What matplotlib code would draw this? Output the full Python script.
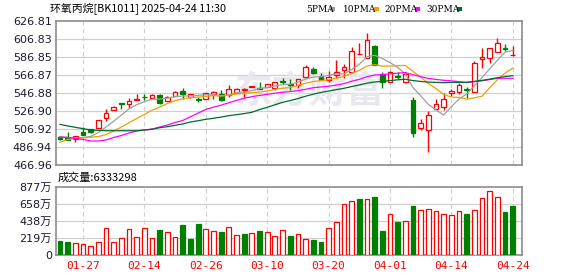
import numpy as np
import matplotlib
matplotlib.use("Agg")
import matplotlib.pyplot as plt
from matplotlib.patches import Rectangle

plt.rcParams['font.family'] = ['DejaVu Sans', 'Noto Sans CJK SC']

# trading days shown (MM-DD)
dates = ['01-22', '01-23', '01-24', '01-27', '02-05', '02-06', '02-07', '02-10', '02-11', '02-12',
         '02-13', '02-14', '02-17', '02-18', '02-19', '02-20', '02-21', '02-24', '02-25', '02-26',
         '02-27', '02-28', '03-03', '03-04', '03-05', '03-06', '03-07', '03-10', '03-11', '03-12',
         '03-13', '03-14', '03-17', '03-18', '03-19', '03-20', '03-21', '03-24', '03-25', '03-26',
         '03-27', '03-28', '03-31', '04-01', '04-02', '04-03', '04-07', '04-08', '04-09', '04-10',
         '04-11', '04-14', '04-15', '04-16', '04-17', '04-18', '04-21', '04-22', '04-23', '04-24']

opens = [497.7, 498.4, 495.8, 503.9, 506.9, 507.7, 519.5, 528.0, 535.8, 534.7,
         539.1, 542.5, 541.7, 544.7, 538.3, 543.9, 549.1, 542.1, 540.2, 540.2,
         545.8, 545.8, 544.7, 547.2, 549.7, 553.9, 552.5, 553.9, 552.1, 560.1,
         557.4, 555.4, 564.3, 573.5, 566.1, 561.0, 566.9, 572.4, 569.9, 589.8,
         585.4, 599.4, 568.0, 558.8, 566.3, 559.4, 539.1, 507.7, 505.8, 528.8,
         531.0, 546.5, 547.7, 551.5, 547.7, 585.0, 585.4, 592.1, 596.5, 588.7]
closes = [495.5, 494.7, 499.2, 500.3, 503.9, 516.9, 525.0, 531.7, 534.7, 538.0,
          540.2, 542.0, 544.7, 536.1, 542.8, 548.3, 545.8, 545.4, 539.1, 546.5,
          548.3, 539.1, 550.8, 551.5, 550.8, 555.0, 551.7, 556.5, 558.8, 559.6,
          556.3, 562.1, 575.4, 569.4, 561.3, 564.3, 569.9, 575.7, 593.5, 590.5,
          605.7, 577.9, 558.8, 569.9, 565.2, 567.6, 502.8, 513.3, 522.1, 534.4,
          539.9, 549.1, 555.4, 550.4, 579.9, 586.3, 596.5, 602.7, 595.4, 589.5]
highs = [499.1, 503.9, 499.2, 508.8, 506.9, 516.9, 528.8, 532.0, 535.8, 541.3,
         545.8, 545.8, 545.8, 545.8, 543.5, 548.8, 552.1, 545.8, 542.5, 546.9,
         548.8, 550.2, 555.7, 551.9, 552.1, 555.0, 559.4, 556.9, 559.1, 563.5,
         562.1, 562.5, 578.0, 575.4, 568.8, 571.6, 583.5, 579.1, 597.6, 602.0,
         613.1, 600.2, 569.9, 571.6, 570.5, 570.5, 542.1, 517.7, 527.2, 539.9,
         546.5, 550.8, 557.6, 553.6, 582.4, 596.5, 596.5, 607.6, 600.9, 599.1]
lows = [494.7, 494.7, 492.5, 500.3, 502.5, 507.7, 515.8, 527.5, 528.8, 530.6,
        539.1, 539.1, 541.7, 534.7, 537.5, 543.5, 539.9, 541.5, 536.9, 539.9,
        539.9, 538.0, 542.5, 546.5, 542.8, 553.6, 551.7, 553.6, 550.2, 556.9,
        550.2, 552.1, 564.3, 568.0, 561.3, 558.8, 563.5, 563.2, 568.8, 589.8,
        585.4, 577.9, 552.8, 558.8, 562.1, 558.3, 497.7, 505.8, 481.1, 528.8,
        528.0, 544.1, 545.8, 541.3, 547.7, 574.3, 579.9, 592.1, 593.9, 587.6]

# volume in 万
volumes = [180, 172, 151, 138, 112, 164, 344, 164, 223, 331,
           228, 344, 215, 322, 297, 228, 387, 206, 400, 331,
           310, 301, 357, 254, 271, 284, 310, 297, 245, 318,
           245, 271, 206, 193, 168, 344, 426, 658, 692, 722,
           718, 748, 310, 529, 430, 439, 632, 580, 593, 567,
           529, 516, 567, 529, 580, 735, 822, 748, 555, 633.3]

ma5 = [498.5, 497.5, 497.0, 497.5, 498.7, 503.0, 509.1, 515.6, 522.4, 529.3,
       533.9, 537.3, 539.9, 540.2, 541.2, 542.8, 543.5, 543.7, 544.3, 545.0,
       545.0, 543.7, 544.9, 547.2, 548.1, 549.4, 552.0, 553.0, 554.6, 556.3,
       556.6, 558.7, 562.4, 564.6, 564.9, 566.5, 568.1, 568.1, 572.9, 578.8,
       587.1, 588.7, 585.3, 580.6, 575.5, 567.9, 552.9, 543.8, 534.2, 528.0,
       522.5, 531.8, 540.2, 545.8, 554.9, 564.2, 573.7, 583.2, 592.2, 594.1]
ma10 = [492.2, 495.3, 496.6, 497.0, 497.7, 498.6, 500.8, 504.7, 509.1, 514.0,
        518.5, 523.2, 527.8, 531.3, 535.3, 538.4, 540.4, 541.8, 542.3, 543.1,
        543.9, 543.6, 544.3, 545.8, 546.6, 547.2, 547.9, 549.0, 550.9, 552.2,
        553.0, 555.4, 557.7, 559.6, 560.6, 561.6, 563.4, 565.3, 568.8, 571.9,
        576.8, 578.4, 576.7, 576.8, 577.2, 577.5, 570.8, 564.6, 557.4, 551.8,
        545.2, 542.4, 542.0, 540.0, 541.5, 543.4, 552.8, 561.7, 569.0, 574.5]
ma20 = [498.0, 497.5, 496.4, 495.3, 493.6, 493.6, 494.7, 497.5, 499.7, 502.5,
        504.7, 505.8, 506.9, 509.1, 511.4, 514.1, 516.4, 520.5, 524.6, 528.6,
        531.2, 533.4, 536.1, 538.6, 541.0, 542.8, 544.2, 545.4, 546.6, 547.7,
        548.5, 549.5, 551.0, 552.7, 553.6, 554.4, 555.7, 557.2, 559.9, 562.1,
        564.9, 566.9, 567.2, 568.2, 568.9, 569.6, 567.1, 565.0, 563.1, 561.9,
        561.0, 560.4, 559.4, 558.4, 559.4, 560.5, 561.8, 563.2, 563.2, 563.2]
ma30 = [512.1, 510.3, 508.8, 507.3, 505.8, 505.5, 505.0, 505.0, 505.0, 505.0,
        505.0, 505.8, 506.6, 508.4, 509.5, 511.0, 512.5, 514.7, 516.1, 517.7,
        518.8, 520.2, 521.7, 522.8, 524.0, 525.5, 528.5, 531.0, 533.8, 536.5,
        538.5, 540.7, 543.3, 545.6, 547.5, 549.1, 550.6, 552.1, 554.0, 555.8,
        557.9, 559.1, 559.6, 560.7, 561.5, 562.1, 560.7, 559.7, 559.0, 558.7,
        558.3, 558.7, 558.8, 558.8, 559.8, 560.9, 562.3, 563.9, 565.1, 566.1]

price_ticks = [466.96, 486.94, 506.92, 526.90, 546.88, 566.87, 586.85, 606.83, 626.81]
vol_ticks = [0, 219, 438, 658, 877]
vol_labels = ['0', '219万', '438万', '658万', '877万']

RED = '#ff0000'
GREEN = '#008000'
FRAME = '#8c8c8c'
GRID = '#d0d0d0'

W, H = 578, 276
fig = plt.figure(figsize=(W / 100, H / 100), dpi=100)
ax = fig.add_axes([56 / W, (H - 165) / H, 466 / W, 144 / H])
axv = fig.add_axes([56 / W, (H - 255) / H, 466 / W, 68 / H])

x = np.arange(len(closes))
o = np.array(opens)
c = np.array(closes)
up = c >= o
# volume colour follows the change against the previous close
vol_up = np.concatenate([[False], np.diff(c) >= 0])
label_idx = list(range(3, len(dates), 8))

for a in (ax, axv):
    a.set_xlim(-0.52, 60.2)
    for s in a.spines.values():
        s.set_color(FRAME)
        s.set_linewidth(1.2)
    for i in label_idx:
        a.axvline(i, color=GRID, lw=0.8, ls=(0, (4, 3)), zorder=0)

# price panel
ax.set_ylim(price_ticks[0], price_ticks[-1])
ax.set_yticks(price_ticks)
ax.set_yticklabels(['%.2f' % t for t in price_ticks])
for t in price_ticks[1:-1]:
    ax.axhline(t, color=GRID, lw=0.9, zorder=0)
ax.set_xticks([])
ax.tick_params(axis='y', length=0, labelsize=8, colors='#1a1a2e', pad=3)

ax.text(32.5, 548, '东方财富', fontsize=27, fontweight='bold', color='#e8e8ee',
        ha='center', va='center', family=['Noto Sans CJK SC'], zorder=0)

ax.vlines(x[up], np.array(lows)[up], np.array(highs)[up], color=RED, lw=1, zorder=2)
ax.vlines(x[~up], np.array(lows)[~up], np.array(highs)[~up], color=GREEN, lw=1, zorder=2)
body = np.abs(c - o)
bottom = np.minimum(c, o)
ax.bar(x[up], body[up], bottom=bottom[up], width=0.62, facecolor='white',
       edgecolor=RED, linewidth=0.9, zorder=3)
ax.bar(x[~up], np.maximum(body[~up], 0.6), bottom=bottom[~up], width=0.62,
       facecolor=GREEN, edgecolor=GREEN, linewidth=0.9, zorder=3)

ax.plot(x, ma5, color='#a0a0a0', lw=0.9, zorder=4)
ax.plot(x, ma10, color='#f0a000', lw=0.9, zorder=4)
ax.plot(x, ma20, color='#ff00ff', lw=0.9, zorder=4)
ax.plot(x, ma30, color='#006b2d', lw=0.9, zorder=4)

# volume panel
axv.set_ylim(0, vol_ticks[-1])
axv.set_yticks(vol_ticks)
axv.set_yticklabels(vol_labels, family=['DejaVu Sans', 'Noto Sans CJK SC'])
for t in vol_ticks[1:-1]:
    axv.axhline(t, color=GRID, lw=0.9, zorder=0)
axv.tick_params(axis='y', length=0, labelsize=8, colors='#1a1a2e', pad=3)
v = np.array(volumes)
axv.bar(x[vol_up], v[vol_up], width=0.62, facecolor='white', edgecolor=RED, linewidth=0.9, zorder=3)
axv.bar(x[~vol_up], v[~vol_up], width=0.62, facecolor=GREEN, edgecolor=GREEN, linewidth=0.9, zorder=3)
axv.set_xticks(label_idx)
axv.set_xticklabels([dates[i] for i in label_idx], family='DejaVu Sans Mono')
axv.tick_params(axis='x', length=0, labelsize=8, colors=RED, pad=4)

# header texts
fig.text(50 / W, 1 - 9 / H, '环氧丙烷[BK1011] 2025-04-24 11:30', fontsize=7.8,
         family=['Noto Sans CJK SC'], va='center', ha='left')
legend = [('5PMA', 306, 330, '#a0a0a0'), ('10PMA', 343, 374, '#f0a000'),
          ('20PMA', 384, 415, '#ff00ff'), ('30PMA', 426, 457, '#006b2d')]
for name, px, bx, col in legend:
    fig.text(px / W, 1 - 9 / H, name, fontsize=6.5, family='DejaVu Serif',
             va='center', ha='left')
    fig.patches.append(Rectangle((bx / W, 1 - 11 / H), 5 / W, 4 / H,
                                 transform=fig.transFigure, facecolor=col,
                                 edgecolor='none'))
fig.text(58 / W, 1 - 178 / H, '成交量:6333298', fontsize=8,
         family=['Noto Sans CJK SC'], va='center', ha='left')

fig.savefig('out.png', dpi=100)
